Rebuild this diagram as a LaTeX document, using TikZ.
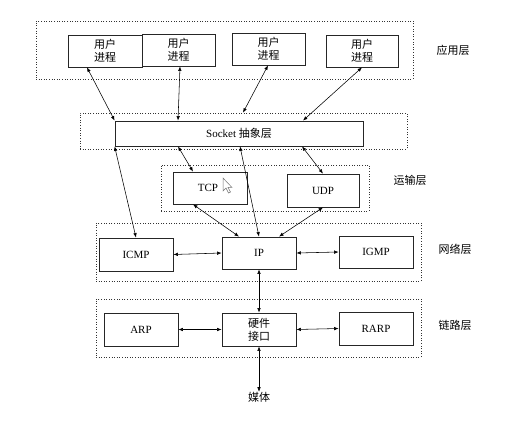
\documentclass[tikz,border=0pt]{standalone}
\usepackage{fontspec}
\setmainfont{Liberation Serif}
\newfontfamily\cjk{Noto Sans CJK SC}
\usetikzlibrary{arrows.meta,calc}
\begin{document}
\begin{tikzpicture}[x=1pt,y=-1pt,
  box/.style={draw=black!85,line width=0.8pt,fill=white,minimum width=74pt,minimum height=32pt,inner sep=0pt,align=center,font=\fontsize{11}{13}\selectfont},
  layerbox/.style={draw=black!80,line width=0.6pt,dash pattern=on 1pt off 1.6pt,inner sep=0pt},
  lbl/.style={font=\fontsize{11}{13}\selectfont\cjk,inner sep=0pt},
  link/.style={line width=0.55pt,{Latex[length=4.5pt,width=3.5pt]}-{Latex[length=4.5pt,width=3.5pt]}}
]
\useasboundingbox (0,0) rectangle (513,443);
\fill[white] (0,0) rectangle (513,443);
% layer boxes
\node[layerbox,minimum width=377pt,minimum height=58pt] (applayer) at (224.5,50) {};
\node[layerbox,minimum width=327pt,minimum height=36pt] (socklayer) at (243.5,131) {};
\node[layerbox,minimum width=208pt,minimum height=46pt] (translayer) at (265,188) {};
\node[layerbox,minimum width=325pt,minimum height=58pt] (netlayer) at (258.5,252) {};
\node[layerbox,minimum width=325pt,minimum height=58pt] (linklayer) at (258.5,328) {};
% boxes
\node[box] (u1) at (105,51) {\cjk 用户\\\cjk 进程};
\node[box,minimum width=73pt] (u2) at (178.5,50) {\cjk 用户\\\cjk 进程};
\node[box,minimum width=73pt] (u3) at (268.5,49) {\cjk 用户\\\cjk 进程};
\node[box,minimum width=72pt] (u4) at (362,51) {\cjk 用户\\\cjk 进程};
\node[box,minimum width=248pt,minimum height=25pt] (socket) at (239,133.5) {Socket {\cjk 抽象层}};
\node[box] (tcp) at (210,188) {\hspace{2pt}TCP\hspace{6pt}\mbox{}};
\node[box,minimum width=72pt,minimum height=33pt] (udp) at (323,190.5) {UDP};
\node[box,minimum height=33pt] (icmp) at (136,254.5) {ICMP};
\node[box] (ip) at (259,253) {IP};
\node[box] (igmp) at (376,252) {IGMP};
\node[box,minimum height=33pt] (arp) at (141,329.5) {ARP};
\node[box,minimum height=33pt] (hw) at (259,329.5) {\cjk 硬件\\\cjk 接口};
\node[box,minimum height=33pt] (rarp) at (376,328.5) {RARP};
\node[lbl] (media) at (259,397) {媒体};
% layer labels
\node[lbl] (lapp) at (453,50) {应用层};
\node[lbl] (ltrans) at (410,180) {运输层};
\node[lbl] (lnet) at (455,249) {网络层};
\node[lbl] (llink) at (455,325) {链路层};
% cursor
\draw[black!55,fill=white,line width=0.5pt] (223,178) -- (223,191) -- (226,188) -- (228.5,193) -- (230.5,192) -- (228,187.5) -- (232,187.5) -- cycle;
% connectors
\draw[link] ([xshift=-18pt]u1.south) -- (socket.north west);
\draw[link] ([xshift=1.5pt]u2.south) -- ([xshift=-61pt]socket.north);
\draw[link] ([xshift=-0.5pt]u3.south) -- ([xshift=-0.5pt]socklayer.north);
\draw[link] (u4.south) -- ([xshift=64pt]socket.north);
\draw[link] ([xshift=-61pt]socket.south) -- ([xshift=-17pt]tcp.north);
\draw[link] ([xshift=63pt]socket.south) -- (udp.north);
\draw[link] (socket.south west) -- (icmp.north);
\draw[link] ([xshift=1pt]socket.south) -- (ip.north);
\draw[link] ([xshift=-17pt]tcp.south) -- ([xshift=-20pt]ip.north);
\draw[link] (udp.south) -- ([xshift=20pt]ip.north);
\draw[link] (icmp.east) -- (ip.west);
\draw[link] (ip.east) -- (igmp.west);
\draw[link] (ip.south) -- (hw.north);
\draw[link] (arp.east) -- (hw.west);
\draw[link] (hw.east) -- (rarp.west);
\draw[link] (hw.south) -- (media.north);
\end{tikzpicture}
\end{document}
